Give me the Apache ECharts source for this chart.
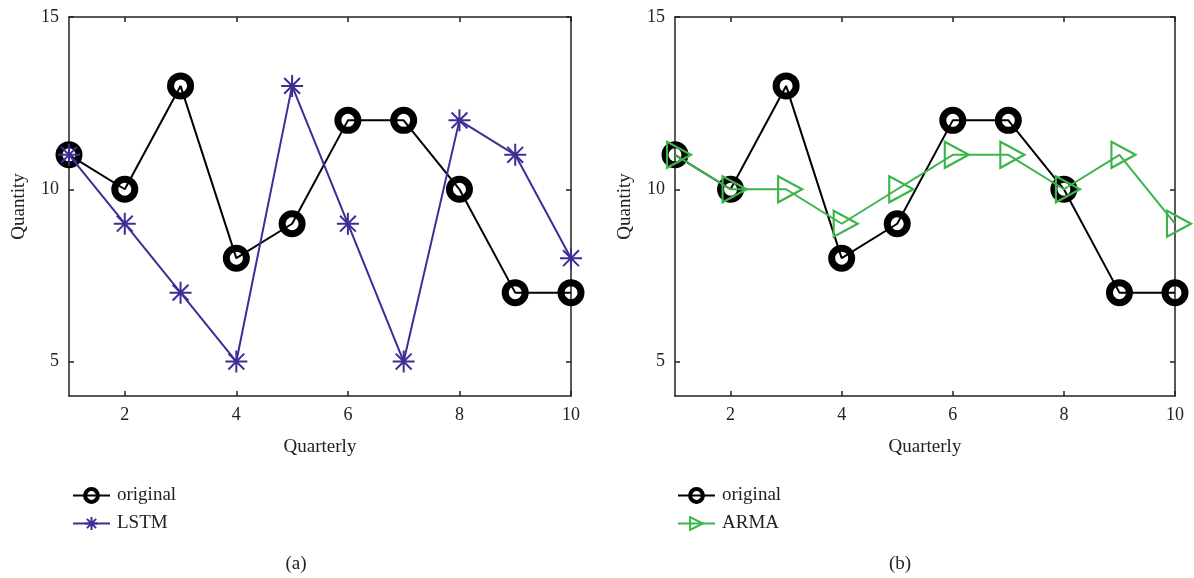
<!DOCTYPE html>
<html>
<head>
<meta charset="utf-8">
<style>html,body{margin:0;padding:0;background:#fff;}#c{width:1194px;height:578px;}</style>
<script src="https://cdn.jsdelivr.net/npm/echarts@6/dist/echarts.min.js"></script>
</head>
<body>
<div id="c"></div>
<script>
const quarters = [1,2,3,4,5,6,7,8,9,10];
const original = [11,10,13,8,9,12,12,10,7,7];
const lstm = [11,9,7,5,13,9,5,12,11,8];
const arma = [11,10,10,9,10,11,11,10,11,9];
const xTicks = [2,4,6,8,10];
const yTicks = [5,10,15];

const FONT = 'Liberation Serif';
const TXT = '#222';
const pairs = v => quarters.map((q,i)=>[q, v[i]]);

const starPath = 'path://M0,-1L0,1M-1,0L1,0M-0.72,-0.72L0.72,0.72M-0.72,0.72L0.72,-0.72';
const triPath = 'path://M0,0L1.7,1L0,2Z';

const grids = [
  {left:69, top:17, width:502, height:379},
  {left:675, top:17, width:500, height:379}
];

function axesFor(gi){
  const xs = [
    {gridIndex:gi, type:'value', min:1, max:10, position:'bottom',
     name:'Quarterly', nameLocation:'middle', nameGap:42,
     nameTextStyle:{fontFamily:FONT, fontSize:19, color:TXT},
     axisLine:{show:true, lineStyle:{color:'#222', width:1.5}},
     axisTick:{show:true, inside:true, length:5, customValues:xTicks, lineStyle:{color:'#222',width:1.5}},
     axisLabel:{show:true, customValues:xTicks, fontFamily:FONT, fontSize:18, color:TXT, margin:10},
     splitLine:{show:false}},
    {gridIndex:gi, type:'value', min:1, max:10, position:'top',
     axisLine:{show:true, onZero:false, lineStyle:{color:'#222', width:1.5}},
     axisTick:{show:true, inside:true, length:5, customValues:xTicks, lineStyle:{color:'#222',width:1.5}},
     axisLabel:{show:false}, splitLine:{show:false}}
  ];
  const ys = [
    {gridIndex:gi, type:'value', min:4, max:15, position:'left',
     name:'Quantity', nameLocation:'middle', nameGap:40, nameRotate:90,
     nameTextStyle:{fontFamily:FONT, fontSize:19, color:TXT},
     axisLine:{show:true, onZero:false, lineStyle:{color:'#222', width:1.5}},
     axisTick:{show:true, inside:true, length:5, customValues:yTicks, lineStyle:{color:'#222',width:1.5}},
     axisLabel:{show:true, customValues:yTicks, fontFamily:FONT, fontSize:18, color:TXT, margin:10},
     splitLine:{show:false}},
    {gridIndex:gi, type:'value', min:4, max:15, position:'right',
     axisLine:{show:true, onZero:false, lineStyle:{color:'#222', width:1.5}},
     axisTick:{show:true, inside:true, length:5, customValues:yTicks, lineStyle:{color:'#222',width:1.5}},
     axisLabel:{show:false}, splitLine:{show:false}}
  ];
  return {xs, ys};
}
const a0 = axesFor(0), a1 = axesFor(1);

function origSeries(xi, yi){
  return {name:'original', type:'line', xAxisIndex:xi, yAxisIndex:yi, data:pairs(original),
    symbol:'circle', symbolSize:20, z:2,
    lineStyle:{color:'#000', width:2},
    itemStyle:{color:'rgba(255,255,255,0)', borderColor:'#000', borderWidth:7},
    emphasis:{disabled:true}};
}

const legendText = {fontFamily:FONT, fontSize:19, color:TXT, padding:[0,0,0,2]};
const option = {
  animation:false,
  backgroundColor:'#fff',
  grid: grids,
  xAxis: [a0.xs[0], a0.xs[1], a1.xs[0], a1.xs[1]],
  yAxis: [a0.ys[0], a0.ys[1], a1.ys[0], a1.ys[1]],
  legend: [
    {left:67, top:481, orient:'vertical', itemWidth:37, itemHeight:16, itemGap:9,
     data:[{name:'original', itemStyle:{borderWidth:4}},{name:'LSTM', itemStyle:{borderWidth:2}}],
     textStyle:legendText, selectedMode:false},
    {left:672, top:481, orient:'vertical', itemWidth:37, itemHeight:16, itemGap:9,
     data:[{name:'original', itemStyle:{borderWidth:4}},{name:'ARMA', itemStyle:{borderWidth:2}}],
     textStyle:legendText, selectedMode:false}
  ],
  title: [
    {text:'(a)', left:291, top:550, textAlign:'center', textStyle:{fontFamily:FONT, fontSize:19, fontWeight:'normal', color:TXT}},
    {text:'(b)', left:895, top:550, textAlign:'center', textStyle:{fontFamily:FONT, fontSize:19, fontWeight:'normal', color:TXT}}
  ],
  series: [
    origSeries(0,0),
    {name:'LSTM', type:'line', xAxisIndex:0, yAxisIndex:0, data:pairs(lstm),
     symbol:starPath, symbolSize:22, z:3,
     lineStyle:{color:'#3b2f96', width:2},
     itemStyle:{color:'#3b2f96', borderColor:'#3b2f96', borderWidth:2},
     emphasis:{disabled:true}},
    origSeries(2,2),
    {name:'ARMA', type:'line', xAxisIndex:2, yAxisIndex:2, data:pairs(arma),
     symbol:triPath, symbolSize:[24,26], symbolOffset:[4,0], z:3,
     lineStyle:{color:'#3bb54a', width:2},
     itemStyle:{color:'rgba(255,255,255,0)', borderColor:'#3bb54a', borderWidth:2.2},
     emphasis:{disabled:true}}
  ]
};
const chart = echarts.init(document.getElementById('c'), null, {renderer:'canvas'});
chart.setOption(option);
</script>
</body>
</html>
